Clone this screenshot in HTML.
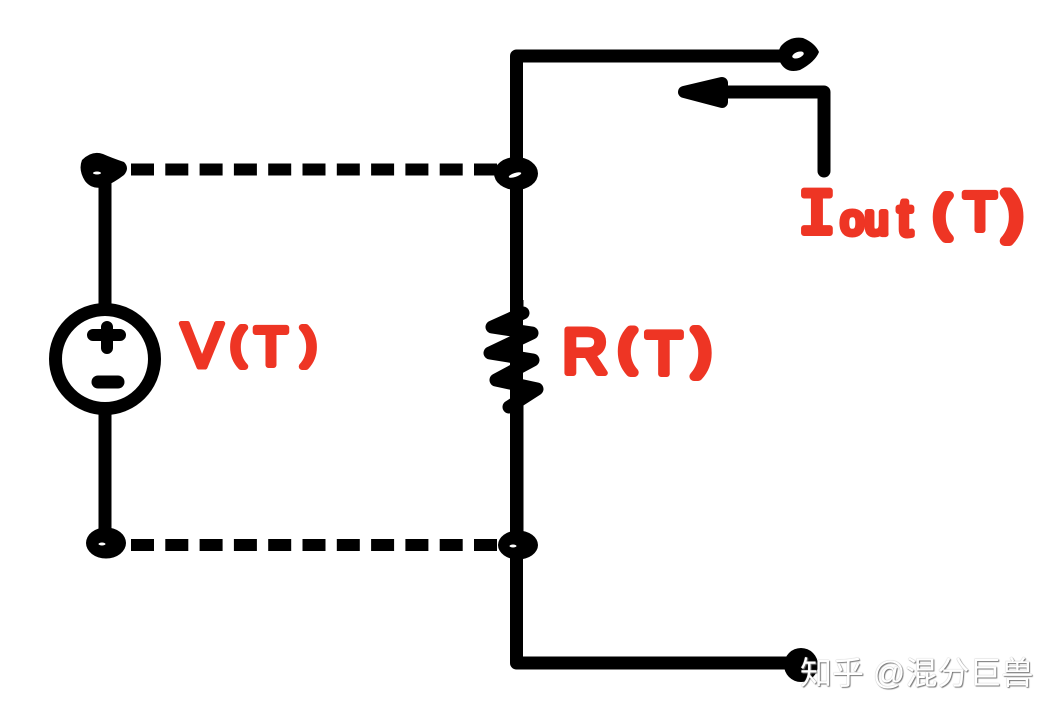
<!DOCTYPE html>
<html><head><meta charset="utf-8"><style>
html,body{margin:0;padding:0;background:#fff;width:1059px;height:718px;overflow:hidden}
svg{display:block}
.w{fill:none;stroke:#000;stroke-width:13}
.r text{fill:#ee3524;stroke:#ee3524;stroke-width:7;stroke-linejoin:round;stroke-linecap:round;font-family:"Liberation Sans",sans-serif;text-anchor:middle}
#wm{position:absolute;left:800px;top:655px;font:32px/36px "Liberation Sans","Noto Sans CJK SC",sans-serif;color:#fff;white-space:pre;text-shadow:1px 1px 1px #777,0 0 1px #999}
</style></head><body>
<svg width="1059" height="718" viewBox="0 0 1059 718" style="position:absolute;left:0;top:0">
<path class="w" d="M790 56H516.500V663H800" stroke-linejoin="round"/>
<path class="w" d="M105 170V540"/>
<path class="w" d="M824 171V92H700" stroke-linecap="round" stroke-linejoin="round"/>
<path d="M684 92L722 83V102Z" fill="#000" stroke="#000" stroke-width="12" stroke-linejoin="round"/>
<g stroke="#000" stroke-width="12" fill="none" stroke-dasharray="23 11.3">
<path d="M131 169.500H497"/><path d="M131 545H497"/></g>
<circle cx="105" cy="359" r="49.500" fill="#fff" stroke="#000" stroke-width="13"/>
<path d="M93 335H120M107 327V348" stroke="#000" stroke-width="12" stroke-linecap="round" fill="none"/>
<path d="M98 382H118" stroke="#000" stroke-width="13" stroke-linecap="round" fill="none"/>
<path d="M517 300V313" fill="none" stroke="#000" stroke-width="13"/>
<path d="M523 313L492 327L532 333L490 353L533 360L496 380L537 389L509 407" fill="none" stroke="#000" stroke-width="13" stroke-linejoin="round" stroke-linecap="round"/>
<path d="M517 405V540" fill="none" stroke="#000" stroke-width="13"/>
<!-- blobs -->
<g fill="#000">
<path d="M781 46Q790 36 803 38Q815 43 819 52Q815 62 800 70Q786 74 780 62Q776 54 781 46Z"/>
<path d="M82 160Q92 150 103 154Q112 158 124 162Q130 168 124 175Q115 182 104 187Q92 190 85 181Q78 170 82 160Z"/>
<ellipse cx="516" cy="173.500" rx="22" ry="16.500"/>
<ellipse cx="106" cy="543" rx="20" ry="15.500"/>
<ellipse cx="518" cy="545" rx="20" ry="14.500"/>
<ellipse cx="801" cy="665" rx="17" ry="17"/>
</g>
<g fill="#fff">
<ellipse cx="798" cy="55" rx="6" ry="3" transform="rotate(-20 798 55)"/>
<ellipse cx="97" cy="173" rx="4" ry="1.500"/>
<ellipse cx="515" cy="175" rx="6.500" ry="2" transform="rotate(-18 515 175)"/>
<ellipse cx="102" cy="544" rx="3.500" ry="1.500"/>
<ellipse cx="513" cy="546" rx="3.500" ry="1.500"/>
</g>
<!-- labels -->
<g class="r">
<text x="202" y="367" font-size="63" style="stroke-width:5">V</text>
<text x="238" y="358" font-size="42">(</text>
<text x="271" y="365" font-size="54" style="stroke-width:6">T</text>
<text x="309" y="358" font-size="42">)</text>

<text x="585" y="373" font-size="63" style="stroke-width:6">R</text>
<text x="627" y="363" font-size="45" style="stroke-width:9">(</text>
<text x="664" y="374" font-size="60" style="stroke-width:6">T</text>
<text x="702" y="366" font-size="50" style="stroke-width:9">)</text>

<text x="817" y="233" font-size="64" style="font-family:'Liberation Mono',monospace;stroke-width:6">I</text>
<text x="865" y="234" font-size="42" style="letter-spacing:1px;stroke-width:6">ou</text>
<text x="905" y="235" font-size="52" style="stroke-width:6">t</text>
<text x="942" y="229" font-size="46" style="stroke-width:9">(</text>
<text x="980" y="230" font-size="54" style="stroke-width:6">T</text>
<text x="1013" y="230" font-size="52" style="stroke-width:10">)</text>
</g>
</svg>
<div id="wm">知乎 @混分巨兽</div>
</body></html>
